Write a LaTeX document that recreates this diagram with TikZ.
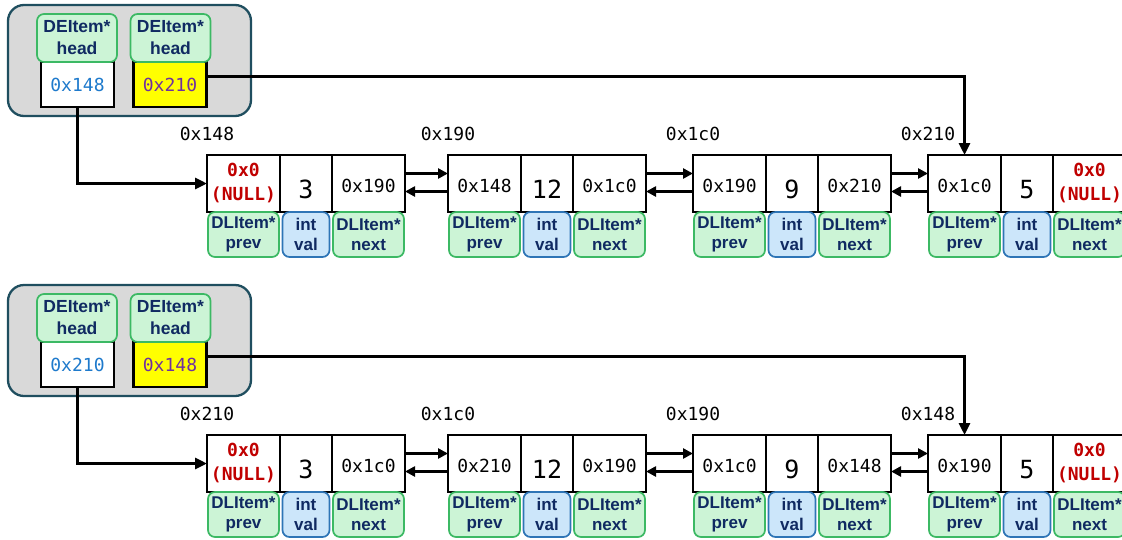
\documentclass[tikz,border=0pt]{standalone}
\usepackage{fontspec}
\setmainfont{Liberation Sans}
\setmonofont{DejaVu Sans Mono}
\usetikzlibrary{arrows.meta}
\definecolor{gfill}{RGB}{204,244,214}
\definecolor{gline}{RGB}{60,185,100}
\definecolor{bfill}{RGB}{204,230,250}
\definecolor{bline}{RGB}{46,117,182}
\definecolor{navy}{RGB}{16,42,98}
\definecolor{panelfill}{RGB}{217,217,217}
\definecolor{panelline}{RGB}{31,78,95}
\definecolor{hexblue}{RGB}{30,122,204}
\definecolor{hexpurple}{RGB}{112,48,160}
\definecolor{nullred}{RGB}{192,0,0}
\definecolor{hlyellow}{RGB}{255,255,0}
\newcommand\hx[1]{\raisebox{-2pt}[13pt][0pt]{#1}}
\newcommand\valtxt[1]{\raisebox{-6pt}[18pt][0pt]{#1}}
\newcommand\nulltxt{\textcolor{nullred}{\bfseries\begin{tabular}{@{}c@{}}0x0\\(NULL)\end{tabular}}}
\tikzset{
  cell/.style={draw, line width=2pt, inner sep=0pt, outer sep=0pt, minimum height=57pt,
    font=\ttfamily\fontsize{18}{24}\selectfont},
  cellw/.style={cell, minimum width=73pt},
  cellv/.style={cell, minimum width=52pt, font=\ttfamily\fontsize{25}{28}\selectfont},
  lbl/.style={draw, line width=1.7pt, rounded corners=7pt, inner sep=0pt, outer sep=0pt,
    minimum height=45pt, align=center, text=navy, font=\bfseries\fontsize{17}{20}\selectfont},
  lblg/.style={lbl, fill=gfill, draw=gline, minimum width=71pt},
  lblb/.style={lbl, fill=bfill, draw=bline, minimum width=47pt},
  addr/.style={inner sep=0pt, font=\ttfamily\fontsize{18}{20}\selectfont},
  panel/.style={draw=panelline, fill=panelfill, line width=2.3pt, rounded corners=16pt,
    minimum width=243pt, minimum height=111pt, inner sep=0pt},
  hval/.style={draw, line width=2.3pt, minimum width=73pt, minimum height=45pt, inner sep=0pt,
    font=\ttfamily\fontsize{18}{20}\selectfont},
  hdr/.style={draw=gline, fill=gfill, line width=1.7pt, rounded corners=7pt, minimum width=80pt,
    minimum height=48pt, inner sep=0pt, align=center, text=navy,
    font=\bfseries\fontsize{17.5}{22}\selectfont},
  link/.style={line width=3pt, -{Triangle[length=10pt,width=10pt]}},
  hlink/.style={line width=3.2pt, -{Triangle[length=12pt,width=11pt]}},
}
\newcommand\dlnode[7]{%
  \node[cellw, anchor=north west] (#1p) at (#2,#3) {#5};
  \node[cellv, anchor=north west] (#1v) at (#1p.north east) {\valtxt{#6}};
  \node[cellw, anchor=north west] (#1n) at (#1v.north east) {#7};
  \node[lblg, anchor=north] (#1pl) at (#1p.south) {DLItem*\\prev};
  \node[lblb, anchor=north] (#1vl) at (#1v.south) {int\\val};
  \node[lblg, anchor=north] (#1nl) at (#1n.south) {DLItem*\\next};
  \node[addr] (#1a) at ([yshift=21pt]#1p.north west) {#4};
}
\newcommand\dlpair[2]{%
  \draw[link] ([yshift=10pt]#1n.east) -- ([yshift=10pt]#2p.west);
  \draw[link] ([yshift=-8pt]#2p.west) -- ([yshift=-8pt]#1n.east);
}
\begin{document}
\begin{tikzpicture}[x=1pt,y=-1pt]
\useasboundingbox (0,0) rectangle (1122,539);
\clip (0,0) rectangle (1122,539);
% ---------- top ----------
\node[panel] (tpanel) at (129.5,60.5) {};
\node[hval, fill=white, text=hexblue] (th1v) at (77.5,84.5) {0x148};
\node[hval, fill=hlyellow, text=hexpurple] (th2v) at (170,84.5) {0x210};
\node[hdr] (th1h) at (77,38) {DEItem*\\head};
\node[hdr] (th2h) at (170.5,38) {DEItem*\\head};
\dlnode{t1}{207}{155}{0x148}{\nulltxt}{3}{\hx{0x190}}
\dlnode{t2}{448}{155}{0x190}{\hx{0x148}}{12}{\hx{0x1c0}}
\dlnode{t3}{693}{155}{0x1c0}{\hx{0x190}}{9}{\hx{0x210}}
\dlnode{t4}{928}{155}{0x210}{\hx{0x1c0}}{5}{\nulltxt}
\dlpair{t1}{t2}
\dlpair{t2}{t3}
\dlpair{t3}{t4}
\draw[hlink] (th1v.south) |- (t1p.west);
\draw[hlink] ([yshift=8pt]th2v.east) -| (t4p.north);
% ---------- bottom ----------
\node[panel] (bpanel) at (129.5,340.5) {};
\node[hval, fill=white, text=hexblue] (bh1v) at (77.5,364.5) {0x210};
\node[hval, fill=hlyellow, text=hexpurple] (bh2v) at (170,364.5) {0x148};
\node[hdr] (bh1h) at (77,318) {DEItem*\\head};
\node[hdr] (bh2h) at (170.5,318) {DEItem*\\head};
\dlnode{b1}{207}{435}{0x210}{\nulltxt}{3}{\hx{0x1c0}}
\dlnode{b2}{448}{435}{0x1c0}{\hx{0x210}}{12}{\hx{0x190}}
\dlnode{b3}{693}{435}{0x190}{\hx{0x1c0}}{9}{\hx{0x148}}
\dlnode{b4}{928}{435}{0x148}{\hx{0x190}}{5}{\nulltxt}
\dlpair{b1}{b2}
\dlpair{b2}{b3}
\dlpair{b3}{b4}
\draw[hlink] (bh1v.south) |- (b1p.west);
\draw[hlink] ([yshift=8pt]bh2v.east) -| (b4p.north);
\end{tikzpicture}
\end{document}
